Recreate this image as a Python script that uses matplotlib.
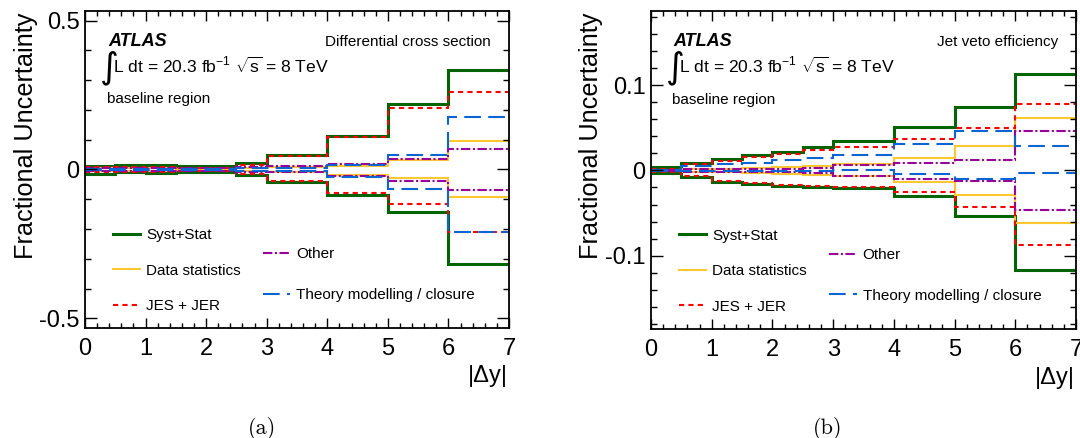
import matplotlib
matplotlib.use("Agg")
import matplotlib.pyplot as plt
from matplotlib.lines import Line2D
from matplotlib.ticker import MultipleLocator

plt.rcParams['font.family'] = ['Liberation Sans', 'DejaVu Sans']
plt.rcParams['axes.unicode_minus'] = False
plt.rcParams['mathtext.fontset'] = 'custom'
plt.rcParams['mathtext.rm'] = 'Liberation Sans'
plt.rcParams['mathtext.it'] = 'Liberation Sans:italic'
plt.rcParams['mathtext.bf'] = 'Liberation Sans:bold'

# ---------------- data ----------------
edges = [0, 0.5, 1, 1.5, 2, 2.5, 3, 4, 5, 6, 7]

# (a) Differential cross section
a_syst_up = [0.012, 0.016, 0.016, 0.011, 0.011, 0.022, 0.048, 0.113, 0.220, 0.334]
a_syst_dn = [-0.014, -0.010, -0.012, -0.008, -0.008, -0.019, -0.043, -0.086, -0.143, -0.318]
a_stat_up = [0.004, 0.004, 0.004, 0.003, 0.003, 0.006, 0.008, 0.013, 0.032, 0.095]
a_stat_dn = [-0.004, -0.004, -0.004, -0.003, -0.003, -0.006, -0.008, -0.017, -0.030, -0.092]
a_jes_up = [0.008, 0.010, 0.010, 0.006, 0.006, 0.016, 0.046, 0.108, 0.207, 0.260]
a_jes_dn = [-0.010, -0.007, -0.008, -0.005, -0.005, -0.015, -0.039, -0.079, -0.117, -0.210]
a_oth_up = [0.005, 0.006, 0.006, 0.004, 0.004, 0.008, 0.011, 0.019, 0.036, 0.069]
a_oth_dn = [-0.005, -0.006, -0.006, -0.004, -0.004, -0.008, -0.009, -0.021, -0.037, -0.069]
a_thy_up = [0.003, 0.003, 0.003, 0.002, 0.002, 0.004, 0.006, 0.014, 0.047, 0.177]
a_thy_dn = [-0.003, -0.003, -0.003, -0.002, -0.002, -0.004, -0.006, -0.026, -0.065, -0.210]

# (b) Jet veto efficiency
b_syst_up = [0.0035, 0.0086, 0.013, 0.018, 0.022, 0.027, 0.034, 0.051, 0.074, 0.113]
b_syst_dn = [-0.003, -0.008, -0.013, -0.016, -0.018, -0.019, -0.021, -0.030, -0.054, -0.117]
b_stat_up = [0.001, 0.002, 0.002, 0.003, 0.004, 0.005, 0.007, 0.014, 0.029, 0.061]
b_stat_dn = [-0.001, -0.002, -0.002, -0.003, -0.004, -0.005, -0.007, -0.014, -0.029, -0.062]
b_jes_up = [0.002, 0.007, 0.011, 0.016, 0.019, 0.0235, 0.028, 0.037, 0.050, 0.078]
b_jes_dn = [-0.002, -0.006, -0.012, -0.0145, -0.017, -0.018, -0.0195, -0.025, -0.043, -0.088]
b_oth_up = [0.001, 0.002, 0.002, 0.002, 0.002, 0.003, 0.006, 0.009, 0.012, 0.046]
b_oth_dn = [-0.001, -0.002, -0.002, -0.002, -0.002, -0.003, -0.006, -0.010, -0.012, -0.046]
b_thy_up = [0.001, 0.0047, 0.008, 0.009, 0.0125, 0.015, 0.018, 0.031, 0.046, 0.029]
b_thy_dn = [-0.001, -0.001, -0.001, -0.001, -0.001, -0.001, 0.000, -0.004, -0.010, -0.003]

labels = ['Syst+Stat', 'Data statistics', 'JES + JER', 'Other', 'Theory modelling / closure']
a_yticks = [-0.5, 0, 0.5]
a_yticklabels = ['-0.5', '0', '0.5']
b_yticks = [-0.1, 0, 0.1]
b_yticklabels = ['-0.1', '0', '0.1']
xticks = [0, 1, 2, 3, 4, 5, 6, 7]

# ---------------- styles ----------------
styles = [
    dict(color='#006400', lw=2.2, ls='-'),
    dict(color='#FFC830', lw=1.5, ls='-'),
    dict(color='#FF0000', lw=1.5, ls=(0, (2.5, 2.0))),
    dict(color='#990099', lw=1.5, ls=(0, (4.5, 1.2, 1.0, 1.2))),
    dict(color='#0A64D2', lw=1.5, ls=(0, (8.0, 3.5))),
]

fig = plt.figure(figsize=(10.8, 4.38), dpi=100)
W, H = 1080, 438

def make_axes(x0, x1, y0, y1):
    return fig.add_axes([x0 / W, 1 - y1 / H, (x1 - x0) / W, (y1 - y0) / H])

axA = make_axes(85, 509, 11, 328)
axB = make_axes(651, 1076, 11, 329)

def draw_panel(ax, series, ylim, yticks, yticklabels, yminor, title, ylab_x, ann_x):
    for (up, dn), st in zip(series, styles):
        ax.stairs(up, edges, baseline=None, color=st['color'], lw=st['lw'], linestyle=st['ls'])
        ax.stairs(dn, edges, baseline=None, color=st['color'], lw=st['lw'], linestyle=st['ls'])
    ax.set_xlim(0, 7)
    ax.set_ylim(*ylim)
    ax.set_xticks(xticks)
    ax.set_xticklabels([str(t) for t in xticks])
    ax.set_yticks(yticks)
    ax.set_yticklabels(yticklabels)
    ax.xaxis.set_minor_locator(MultipleLocator(0.2))
    ax.yaxis.set_minor_locator(MultipleLocator(yminor))
    ax.tick_params(which='both', direction='in', top=True, right=True, width=1.0, labelsize=17)
    ax.tick_params(axis='x', which='major', length=7, pad=7)
    ax.tick_params(axis='x', which='minor', length=3.5)
    ax.tick_params(axis='y', which='major', length=8.5, pad=4)
    ax.tick_params(axis='y', which='minor', length=4.5)
    for sp in ax.spines.values():
        sp.set_linewidth(1.3)
    ax.set_xlabel('|\u0394y|', fontsize=17, loc='right')
    ax.xaxis.set_label_coords(0.997, -0.118)
    ax.set_ylabel('Fractional Uncertainty', fontsize=18.2, loc='top')
    ax.yaxis.set_label_coords(ylab_x, 0.994)

    # annotations
    ax.text(ann_x + 0.003, 0.890, 'ATLAS', transform=ax.transAxes, fontsize=13,
            fontweight='bold', fontstyle='italic', va='baseline', ha='left')
    ax.text(ann_x - 0.016, 0.822, '\u222b', transform=ax.transAxes, fontsize=26,
            family=['DejaVu Sans'], va='center', ha='left')
    ax.text(ann_x + 0.016, 0.804, r'L dt = 20.3 fb$^{-1}$ $\sqrt{\mathrm{s}}$ = 8 TeV',
            transform=ax.transAxes, fontsize=12.6, va='baseline', ha='left')
    ax.text(ann_x, 0.709, 'baseline region', transform=ax.transAxes, fontsize=11,
            va='baseline', ha='left')
    ax.text(0.958, 0.890, title, transform=ax.transAxes, fontsize=11,
            va='baseline', ha='right')

    handles = [Line2D([], [], color=st['color'], lw=st['lw'], linestyle=st['ls']) for st in styles]
    leg1 = ax.legend(handles[:3], labels[:3], loc='upper left', bbox_to_anchor=(0.065, 0.315),
                     bbox_transform=ax.transAxes, frameon=False, fontsize=11, borderpad=0,
                     borderaxespad=0, handlelength=1.8, handletextpad=0.4, labelspacing=1.40)
    ax.add_artist(leg1)
    ax.legend(handles[3:], labels[3:], loc='upper left', bbox_to_anchor=(0.419, 0.254),
              bbox_transform=ax.transAxes, frameon=False, fontsize=11, borderpad=0,
              borderaxespad=0, handlelength=1.8, handletextpad=0.4, labelspacing=1.73)

seriesA = [(a_syst_up, a_syst_dn), (a_stat_up, a_stat_dn), (a_jes_up, a_jes_dn),
           (a_oth_up, a_oth_dn), (a_thy_up, a_thy_dn)]
seriesB = [(b_syst_up, b_syst_dn), (b_stat_up, b_stat_dn), (b_jes_up, b_jes_dn),
           (b_oth_up, b_oth_dn), (b_thy_up, b_thy_dn)]

draw_panel(axA, seriesA, (-0.532, 0.532), a_yticks, a_yticklabels, 0.1,
           'Differential cross section', -0.111, 0.051)
draw_panel(axB, seriesB, (-0.186, 0.187), b_yticks, b_yticklabels, 0.02,
           'Jet veto efficiency', -0.113, 0.050)

fig.text(262 / W, 1 - 428 / H, '(a)', family='cmr10', fontsize=16, ha='center', va='center')
fig.text(828 / W, 1 - 428 / H, '(b)', family='cmr10', fontsize=16, ha='center', va='center')

fig.savefig('out.png', dpi=100)
